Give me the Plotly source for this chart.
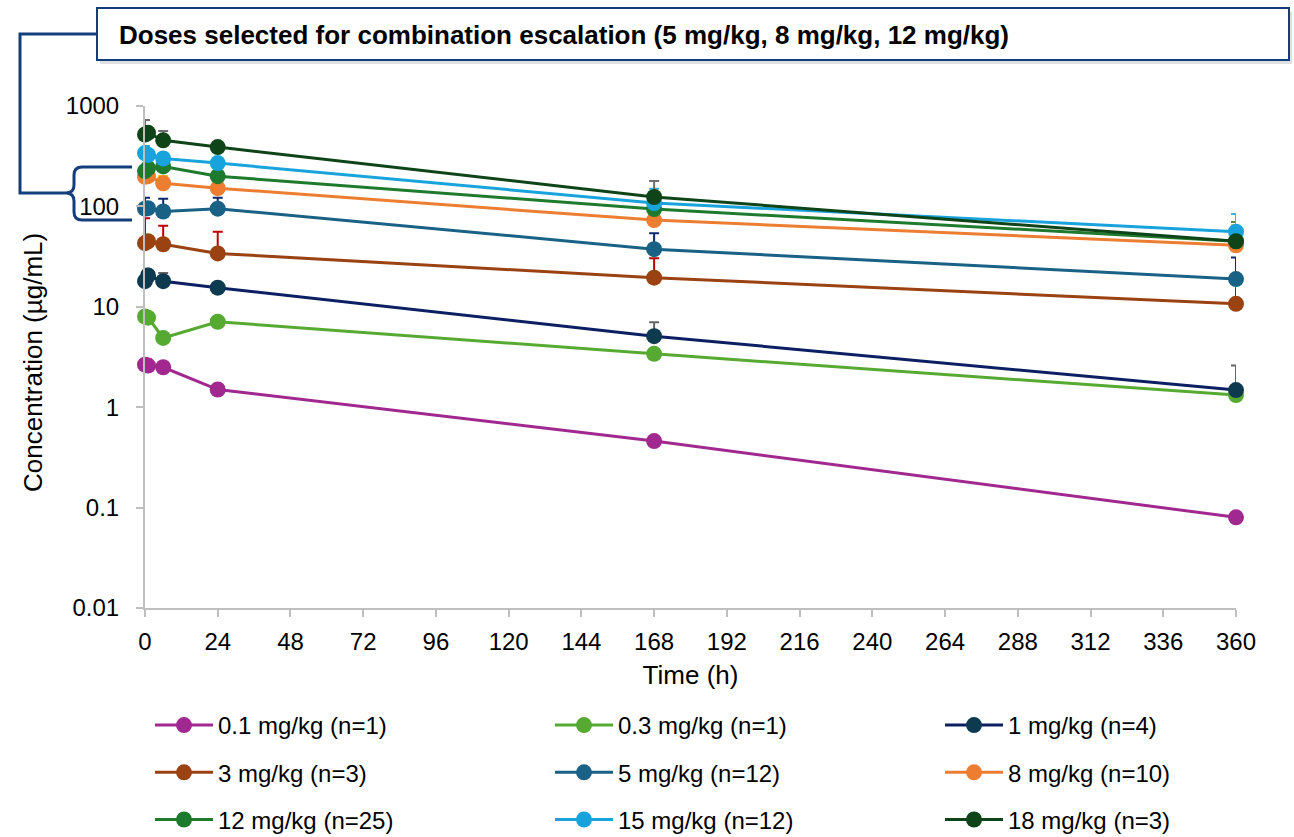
import plotly.graph_objects as go

time_h = [0, 1, 6, 24, 168, 360]

series_names = ["0.1 mg/kg (n=1)", "0.3 mg/kg (n=1)", "1 mg/kg (n=4)",
                "3 mg/kg (n=3)", "5 mg/kg (n=12)", "8 mg/kg (n=10)",
                "12 mg/kg (n=25)", "15 mg/kg (n=12)", "18 mg/kg (n=3)"]

conc_01 = [2.65, 2.6, 2.5, 1.5, 0.46, 0.08]
conc_03 = [8.0, 7.8, 4.9, 7.1, 3.4, 1.32]
conc_1 = [18, 20.5, 18, 15.5, 5.1, 1.48]
conc_3 = [43, 45, 42, 34, 19.5, 10.7]
conc_5 = [95, 96, 89, 95, 37.5, 18.9]
conc_8 = [197, 200, 170, 152, 73, 41]
conc_12 = [225, 240, 250, 200, 94, 45]
conc_15 = [340, 325, 300, 270, 108, 56]
conc_18 = [520, 540, 455, 390, 124, 45]

# upper error bar ends (absolute concentration), None = no bar
upper_01 = [None] * 6
upper_03 = [None] * 6
upper_1 = [24, None, 21.7, None, 7.0, 2.6]
upper_3 = [76, None, 64, 56, 30.5, 20]
upper_5 = [122, None, 119, 122, 54, 31]
upper_8 = [None, None, 201, None, None, 65]
upper_12 = [None, None, None, None, None, 70]
upper_15 = [400, None, None, None, 150, 84]
upper_18 = [725, None, 563, None, 179, None]

y_tickvals = [0.01, 0.1, 1, 10, 100, 1000]
y_ticktext = ["0.01", "0.1", "1", "10", "100", "1000"]
x_tickvals = [0, 24, 48, 72, 96, 120, 144, 168, 192, 216, 240, 264, 288, 312, 336, 360]

all_conc = [conc_01, conc_03, conc_1, conc_3, conc_5, conc_8, conc_12, conc_15, conc_18]
all_upper = [upper_01, upper_03, upper_1, upper_3, upper_5, upper_8, upper_12, upper_15, upper_18]
line_colors = ["#A0288F", "#56AA32", "#0B1F62", "#9A4212", "#1A6186", "#ED7D31",
               "#1E7A2D", "#18A3DC", "#0F4419"]
marker_colors = ["#A0288F", "#56AA32", "#0E3A4F", "#9A4212", "#1A6186", "#ED7D31",
                 "#1E7A2D", "#18A3DC", "#0F4419"]
err_colors = ["#666666", "#666666", "#666666", "#C00000", "#0B2A6B", "#F2C200",
              "#4E8A3A", "#33B5E8", "#6E6E6E"]
# legend column of each series (3 columns, filled row-wise)
legend_ids = ["legend", "legend2", "legend3"] * 3

FONT = "Arial, Liberation Sans, sans-serif"

fig = go.Figure()
for i, (name, c, up, lc, mc, ec) in enumerate(zip(series_names, all_conc, all_upper,
                                                  line_colors, marker_colors, err_colors)):
    arr = [(u - v) if u is not None else None for u, v in zip(up, c)]
    fig.add_trace(go.Scatter(
        x=time_h, y=c, name=name, mode="lines+markers",
        line=dict(color=lc, width=3),
        marker=dict(color=mc, size=16),
        error_y=dict(type="data", symmetric=False, array=arr,
                     arrayminus=[0] * len(arr), color=ec, thickness=2, width=5),
        cliponaxis=False,
        legend=legend_ids[i], legendgroup="g%d" % i,
    ))

# pixel -> paper helpers
L, R, T, B = 145, 1236, 106, 608
W, H = 1294, 837
def px(x):
    return (x - L) / (R - L)
def py(y):
    return 1 - (y - T) / (B - T)

navy = "#123F7C"
shapes = []
shapes.append(dict(type="rect", xref="paper", yref="paper",
                   x0=px(100), x1=px(1292), y0=py(64), y1=py(12),
                   fillcolor="rgba(0,0,0,0.12)", line=dict(width=0), layer="below"))
shapes.append(dict(type="rect", xref="paper", yref="paper",
                   x0=px(97), x1=px(1289), y0=py(60), y1=py(8),
                   fillcolor="white", line=dict(color=navy, width=2)))
pts = "M {},{} L {},{} L {},{} L {},{}".format(px(97), py(34), px(20), py(34),
                                            px(20), py(193), px(66), py(193))
brace = ("M {},{} L {},{} Q {},{} {},{} L {},{} Q {},{} {},{} "
         "Q {},{} {},{} L {},{} Q {},{} {},{} L {},{}").format(
    px(132), py(167), px(82), py(167),
    px(74), py(167), px(74), py(175),
    px(74), py(185),
    px(74), py(193), px(66), py(193),
    px(74), py(193), px(74), py(201),
    px(74), py(212),
    px(74), py(220), px(82), py(220),
    px(132), py(220))
shapes.append(dict(type="path", xref="paper", yref="paper", path=pts,
                   line=dict(color=navy, width=3)))
shapes.append(dict(type="path", xref="paper", yref="paper", path=brace,
                   line=dict(color=navy, width=3)))

def legend_at(xpix):
    return dict(orientation="v", xref="container", yref="container",
                x=(xpix) / W, y=1 - 703 / H, xanchor="left", yanchor="top",
                font=dict(size=24), tracegroupgap=13, itemwidth=58,
                bgcolor="rgba(0,0,0,0)")

fig.update_layout(
    width=W, height=H,
    margin=dict(l=L, r=W - R, t=T, b=H - B, autoexpand=False),
    paper_bgcolor="white", plot_bgcolor="white",
    font=dict(family=FONT, size=24, color="#000000"),
    shapes=shapes,
    annotations=[
        dict(text="<b>Doses selected for combination escalation (5 mg/kg, 8 mg/kg, 12 mg/kg)</b>",
             xref="paper", yref="paper", x=px(117), y=py(35),
             xanchor="left", yanchor="middle", showarrow=False,
             font=dict(size=26, family=FONT, color="#000000")),
        dict(text="Concentration (µg/mL)", xref="paper", yref="paper",
             x=px(33), y=py(362), xanchor="center", yanchor="middle",
             textangle=-90, showarrow=False,
             font=dict(size=26, family=FONT, color="#000000")),
    ],
    xaxis=dict(range=[0, 360], tickvals=x_tickvals, showline=True, linecolor="#BFBFBF",
               linewidth=2, ticks="outside", tickcolor="#BFBFBF", ticklen=7, tickwidth=2,
               showgrid=False, zeroline=False, ticklabelstandoff=4,
               title=dict(text="Time (h)", font=dict(size=26), standoff=12),
               tickfont=dict(size=24)),
    yaxis=dict(type="log", range=[-2, 3], tickvals=y_tickvals, ticktext=y_ticktext,
               showline=True, linecolor="#BFBFBF", linewidth=2, ticks="outside",
               tickcolor="#BFBFBF", ticklen=7, tickwidth=2, showgrid=False, zeroline=False,
               ticklabelstandoff=12, tickfont=dict(size=24)),
    legend=legend_at(150),
    legend2=legend_at(550),
    legend3=legend_at(940),
    showlegend=True,
)

fig.write_html("out.html")
